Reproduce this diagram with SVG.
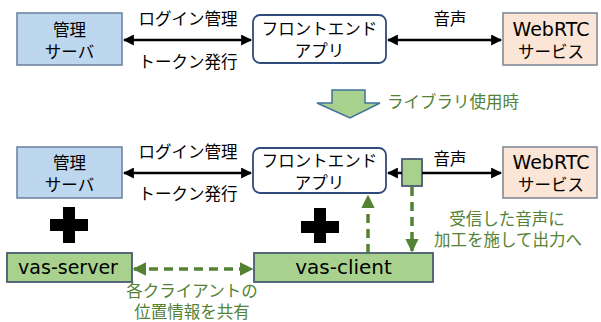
<svg xmlns="http://www.w3.org/2000/svg" width="601" height="322" viewBox="0 0 601 322">
  <defs>
    <style>
      text { font-family: "Noto Sans CJK JP", "Noto Sans", sans-serif; font-size: 16.5px; fill: #000; text-anchor: middle; }
      .g { fill: #548235; }
      .lat { font-family: "DejaVu Sans", "Noto Sans", sans-serif; font-size: 19px; }
      .server { fill: #bdd7ee; stroke: #6a7f9c; stroke-width: 1.5; }
      .front { fill: #fff; stroke: #2f4b7c; stroke-width: 1.8; }
      .rtc { fill: #fbe5d6; stroke: #7a8494; stroke-width: 1.5; }
      .vas { fill: #a9d18e; stroke: #4a5a74; stroke-width: 1.8; }
      .link { stroke: #000; stroke-width: 2.5; fill: none; }
      .dash { stroke: #548235; stroke-width: 3.5; fill: none; stroke-dasharray: 9 6; }
    </style>
    <marker id="ah" viewBox="0 0 10 10" refX="9" refY="5" markerWidth="4.4" markerHeight="4.4" orient="auto-start-reverse" markerUnits="strokeWidth">
      <path d="M0,0 L10,5 L0,10 Z" fill="#000"/>
    </marker>
    <marker id="gh" viewBox="0 0 10 10" refX="9" refY="5" markerWidth="3.8" markerHeight="3.8" orient="auto-start-reverse" markerUnits="strokeWidth">
      <path d="M0,0 L10,5 L0,10 Z" fill="#548235"/>
    </marker>
  </defs>

  <!-- upper row: without the library -->
  <g id="kanri-top">
    <rect class="server" x="17" y="13" width="105" height="52"/>
    <text x="69.5" y="36">管理</text>
    <text x="69.5" y="58">サーバ</text>
  </g>
  <g id="front-top">
    <rect class="front" x="253" y="15" width="133" height="48" rx="7"/>
    <text x="319.5" y="35">フロントエンド</text>
    <text x="319.5" y="57">アプリ</text>
  </g>
  <g id="webrtc-top">
    <rect class="rtc" x="503" y="13" width="94" height="52"/>
    <text x="551" y="36" class="lat">WebRTC</text>
    <text x="551" y="58">サービス</text>
  </g>

  <!-- transition arrow -->
  <g id="library-arrow">
    <path d="M332,90 L365,90 L365,103 L380,103 L350,118 L317,103 L332,103 Z" fill="#a9d18e" stroke="#41719c" stroke-width="1.5"/>
    <text x="453" y="108" class="g">ライブラリ使用時</text>
  </g>

  <!-- lower row: with the library -->
  <g id="kanri-bottom">
    <rect class="server" x="17" y="147" width="105" height="51"/>
    <text x="69.5" y="169">管理</text>
    <text x="69.5" y="191">サーバ</text>
  </g>
  <g id="front-bottom">
    <rect class="front" x="253" y="148" width="133" height="45" rx="7"/>
    <text x="319.5" y="167">フロントエンド</text>
    <text x="319.5" y="189">アプリ</text>
  </g>
  <g id="hook">
    <rect class="vas" x="402" y="159" width="20" height="27"/>
  </g>
  <g id="webrtc-bottom">
    <rect class="rtc" x="503" y="147" width="94" height="51"/>
    <text x="551" y="169" class="lat">WebRTC</text>
    <text x="551" y="191">サービス</text>
  </g>
  <g id="plus-left">
    <path d="M63,207 H75 V219 H88 V231 H75 V243 H63 V231 H50 V219 H63 Z" fill="#000"/>
  </g>
  <g id="plus-right">
    <path d="M314,208 H326 V221 H339 V233 H326 V243 H314 V233 H301 V221 H314 Z" fill="#000"/>
  </g>
  <g id="vas-server">
    <rect class="vas" x="7" y="253" width="125" height="29"/>
    <text x="68" y="274" class="lat">vas-server</text>
  </g>
  <g id="vas-client">
    <rect class="vas" x="254" y="253" width="179" height="29"/>
    <text x="343.5" y="274" class="lat" style="font-size:20px">vas-client</text>
  </g>

  <!-- connectors -->
  <g id="connectors">
    <line class="link" x1="124" y1="40" x2="251" y2="40" marker-start="url(#ah)" marker-end="url(#ah)"/>
    <line class="link" x1="388" y1="40" x2="501" y2="40" marker-start="url(#ah)" marker-end="url(#ah)"/>
    <line class="link" x1="124" y1="173" x2="251" y2="173" marker-start="url(#ah)" marker-end="url(#ah)"/>
    <line class="link" x1="388" y1="173" x2="402" y2="173" marker-start="url(#ah)"/>
    <line class="link" x1="422" y1="173" x2="501" y2="173" marker-end="url(#ah)"/>
    <line class="dash" x1="134" y1="269" x2="252" y2="269" marker-start="url(#gh)" marker-end="url(#gh)"/>
    <line class="dash" x1="368" y1="253" x2="368" y2="196" marker-end="url(#gh)"/>
    <line class="dash" x1="412" y1="187" x2="412" y2="251" marker-end="url(#gh)"/>
  </g>

  <!-- connector labels -->
  <g id="labels">
    <text x="188" y="25">ログイン管理</text>
    <text x="188" y="68">トークン発行</text>
    <text x="450" y="25">音声</text>
    <text x="188" y="158">ログイン管理</text>
    <text x="188" y="200">トークン発行</text>
    <text x="450" y="165">音声</text>
    <text x="507" y="225" class="g">受信した音声に</text>
    <text x="508" y="246" class="g">加工を施して出力へ</text>
    <text x="192" y="297" class="g">各クライアントの</text>
    <text x="192" y="318" class="g">位置情報を共有</text>
  </g>
</svg>
